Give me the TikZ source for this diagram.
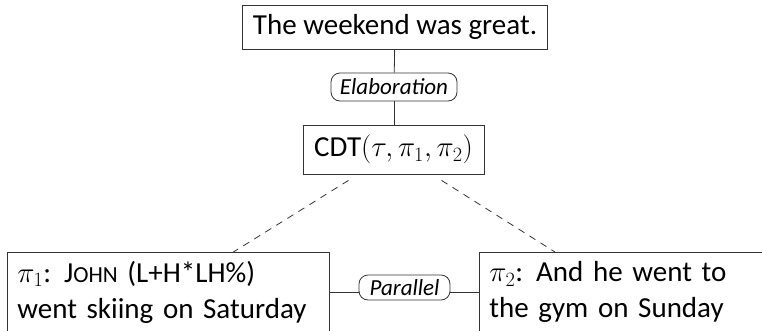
\documentclass[tikz,border=0pt]{standalone}
\usepackage{fix-cm}
\usepackage{fontspec}
\setmainfont{Carlito}
\usetikzlibrary{positioning}

\newcommand{\smallcap}[2]{#1{\fontsize{23}{36}\selectfont #2}}

\begin{document}
\begin{tikzpicture}[x=1pt,y=-1pt,
    sent/.style={draw=black!80, line width=0.8pt, font=\fontsize{29}{36}\selectfont},
    seg/.style={sent, anchor=north west, align=left, inner xsep=10pt, minimum height=80pt},
    rel/.style={draw=black!80, line width=0.8pt, rounded corners=9pt, inner sep=2pt,
                font=\fontsize{23}{26}\selectfont\itshape},
    link/.style={draw=black!80, line width=0.8pt},
    subord/.style={link, dashed, dash pattern=on 7pt off 6pt}]
  \clip (0,0) rectangle (762,330);
  \node[sent, minimum width=305pt, minimum height=44pt] (top) at (395,27) {The weekend was great.};
  \node[rel, minimum width=126pt, minimum height=28pt] (elab) at (394,87) {Elaboration};
  \node[sent, minimum width=181pt, minimum height=49pt] (cdt) at (393.5,149.5)
    {CDT$(\tau,\pi_1,\pi_2)$};
  \node[seg, text width=302pt] (left) at (7,252)
    {$\pi_1$:\hspace{0.45em}\smallcap{J}{OHN} (L+H*LH\%)\\went skiing on Saturday};
  \node[seg, text width=300pt] (right) at (479,252)
    {$\pi_2$:\hspace{0.45em}And he went to\\the gym on Sunday};
  \node[rel, minimum width=91pt, minimum height=25pt] (par) at (404.5,287.5) {Parallel};
  % connectors
  \draw[link] (top) -- (elab);
  \draw[link] (elab.south) -- (elab.south |- cdt.north);
  \draw[link] (left.east) -- (left.east -| par.west);
  \draw[link] (right.west |- left.east) -- (par.east |- left.east);
  \draw[subord] ([xshift=-45pt,yshift=-6pt]cdt.south) -- ([xshift=65pt]left.north);
  \draw[subord] ([xshift=48pt,yshift=-6pt]cdt.south) -- ([xshift=76pt]right.north west);
\end{tikzpicture}
\end{document}
